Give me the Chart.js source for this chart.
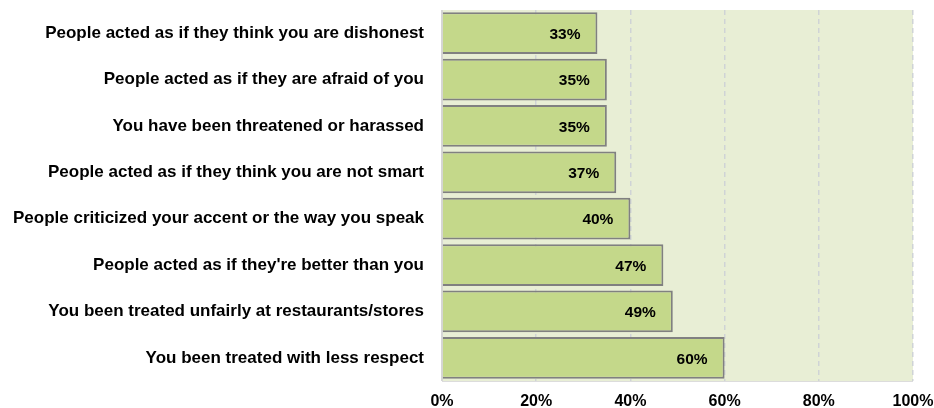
<!DOCTYPE html>
<html>
<head>
<meta charset="utf-8">
<script src="https://cdn.jsdelivr.net/npm/chart.js@4/dist/chart.umd.min.js"></script>
<style>
  html, body { margin: 0; padding: 0; background: #fff; }
  #wrap { width: 934px; height: 408px; }
</style>
</head>
<body>
<div id="wrap"><canvas id="chart"></canvas></div>
<script>
const categories = [
    "People acted as if they think you are dishonest",
    "People acted as if they are afraid of you",
    "You have been threatened or harassed",
    "People acted as if they think you are not smart",
    "People criticized your accent or the way you speak",
    "People acted as if they're better than you",
    "You been treated unfairly at restaurants/stores",
    "You been treated with less respect"
];
const values = [33, 35, 35, 37, 40, 47, 49, 60];
const xTicks = [0, 20, 40, 60, 80, 100];

Chart.defaults.font.family = "'Liberation Sans', Arial, sans-serif";
Chart.defaults.font.weight = 'bold';
Chart.defaults.color = '#000';

// plot area background + light frame on the left/bottom
const plotBg = {
    id: 'plotBg',
    beforeDraw(chart) {
        const { ctx, chartArea: a } = chart;
        ctx.save();
        ctx.fillStyle = '#e8eed5';
        ctx.fillRect(a.left, a.top, a.right - a.left, a.bottom - a.top);
        ctx.strokeStyle = '#d6d6d6';
        ctx.lineWidth = 2;
        ctx.beginPath();
        ctx.moveTo(a.left, a.top);
        ctx.lineTo(a.left, a.bottom);
        ctx.stroke();
        ctx.lineWidth = 1;
        ctx.strokeStyle = '#dcdcdc';
        ctx.beginPath();
        ctx.moveTo(a.left, a.bottom + 0.5);
        ctx.lineTo(a.right, a.bottom + 0.5);
        ctx.stroke();
        ctx.restore();
    }
};

// value labels inside the bar ends
const barLabels = {
    id: 'barLabels',
    afterDatasetsDraw(chart) {
        const { ctx } = chart;
        const meta = chart.getDatasetMeta(0);
        ctx.save();
        ctx.font = "bold 15.5px 'Liberation Sans', Arial, sans-serif";
        ctx.fillStyle = '#000';
        ctx.textAlign = 'right';
        ctx.textBaseline = 'middle';
        meta.data.forEach((bar, i) => {
            ctx.fillText(values[i] + '%', bar.x - 17, bar.y + 1.5);
        });
        ctx.restore();
    }
};

new Chart(document.getElementById('chart'), {
    type: 'bar',
    data: {
        labels: categories,
        datasets: [{
            data: values,
            backgroundColor: '#c4d88a',
            borderColor: '#808080',
            borderWidth: 2,
            borderSkipped: 'left',
            barPercentage: 0.9,
            categoryPercentage: 1
        }]
    },
    options: {
        indexAxis: 'y',
        responsive: true,
        maintainAspectRatio: false,
        animation: false,
        layout: { padding: { top: 10, right: 21, bottom: 0, left: 0 } },
        plugins: {
            legend: { display: false },
            tooltip: { enabled: false }
        },
        scales: {
            x: {
                min: 0,
                max: 100,
                afterBuildTicks(axis) {
                    axis.ticks = xTicks.map(v => ({ value: v }));
                },
                afterFit(axis) {
                    axis.height = 27;
                    axis.paddingLeft = 0;
                    axis.paddingRight = 0;
                },
                grid: {
                    color: ctx => ctx.tick && ctx.tick.value === 0 ? 'rgba(0,0,0,0)' : '#cfd3d6',
                    lineWidth: 1.5,
                    drawTicks: false
                },
                border: { display: false, dash: [5, 4] },
                ticks: {
                    padding: 11,
                    font: { size: 16, weight: 'bold' },
                    callback: v => v + '%'
                }
            },
            y: {
                afterFit(axis) {
                    axis.width = 442;
                    axis.paddingTop = 0;
                    axis.paddingBottom = 0;
                },
                grid: { display: false, drawTicks: false },
                border: { display: false },
                ticks: {
                    padding: 18,
                    font: { size: 17, weight: 'bold' }
                }
            }
        }
    },
    plugins: [plotBg, barLabels]
});
</script>
</body>
</html>
